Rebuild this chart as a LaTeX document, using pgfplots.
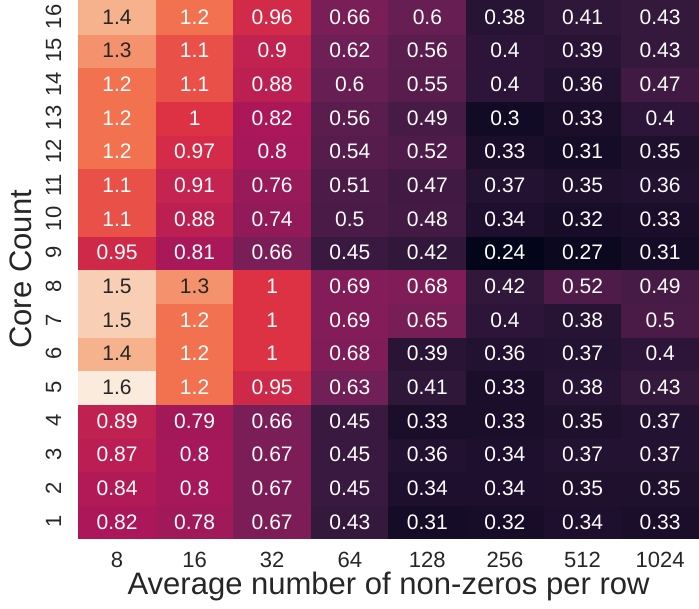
\documentclass[border=0pt]{standalone}
\usepackage{pgfplots}
\usepackage{pgfplotstable}
\pgfplotsset{compat=1.18}
\usepackage{fontspec}
\setmainfont{Liberation Sans}
\definecolor{dk}{HTML}{262626}
\pgfplotstableread{
x y v dark
0 1 0.82 0
1 1 0.78 0
2 1 0.67 0
3 1 0.43 0
4 1 0.31 0
5 1 0.32 0
6 1 0.34 0
7 1 0.33 0
0 2 0.84 0
1 2 0.8 0
2 2 0.67 0
3 2 0.45 0
4 2 0.34 0
5 2 0.34 0
6 2 0.35 0
7 2 0.35 0
0 3 0.87 0
1 3 0.8 0
2 3 0.67 0
3 3 0.45 0
4 3 0.36 0
5 3 0.34 0
6 3 0.37 0
7 3 0.37 0
0 4 0.89 0
1 4 0.79 0
2 4 0.66 0
3 4 0.45 0
4 4 0.33 0
5 4 0.33 0
6 4 0.35 0
7 4 0.37 0
0 5 1.6 1
1 5 1.2 0
2 5 0.95 0
3 5 0.63 0
4 5 0.41 0
5 5 0.33 0
6 5 0.38 0
7 5 0.43 0
0 6 1.4 1
1 6 1.2 0
2 6 1 0
3 6 0.68 0
4 6 0.39 0
5 6 0.36 0
6 6 0.37 0
7 6 0.4 0
0 7 1.5 1
1 7 1.2 0
2 7 1 0
3 7 0.69 0
4 7 0.65 0
5 7 0.4 0
6 7 0.38 0
7 7 0.5 0
0 8 1.5 1
1 8 1.3 1
2 8 1 0
3 8 0.69 0
4 8 0.68 0
5 8 0.42 0
6 8 0.52 0
7 8 0.49 0
0 9 0.95 0
1 9 0.81 0
2 9 0.66 0
3 9 0.45 0
4 9 0.42 0
5 9 0.24 0
6 9 0.27 0
7 9 0.31 0
0 10 1.1 0
1 10 0.88 0
2 10 0.74 0
3 10 0.5 0
4 10 0.48 0
5 10 0.34 0
6 10 0.32 0
7 10 0.33 0
0 11 1.1 0
1 11 0.91 0
2 11 0.76 0
3 11 0.51 0
4 11 0.47 0
5 11 0.37 0
6 11 0.35 0
7 11 0.36 0
0 12 1.2 0
1 12 0.97 0
2 12 0.8 0
3 12 0.54 0
4 12 0.52 0
5 12 0.33 0
6 12 0.31 0
7 12 0.35 0
0 13 1.2 0
1 13 1 0
2 13 0.82 0
3 13 0.56 0
4 13 0.49 0
5 13 0.3 0
6 13 0.33 0
7 13 0.4 0
0 14 1.2 0
1 14 1.1 0
2 14 0.88 0
3 14 0.6 0
4 14 0.55 0
5 14 0.4 0
6 14 0.36 0
7 14 0.47 0
0 15 1.3 1
1 15 1.1 0
2 15 0.9 0
3 15 0.62 0
4 15 0.56 0
5 15 0.4 0
6 15 0.39 0
7 15 0.43 0
0 16 1.4 1
1 16 1.2 0
2 16 0.96 0
3 16 0.66 0
4 16 0.6 0
5 16 0.38 0
6 16 0.41 0
7 16 0.43 0
}\datatable
\begin{document}
\begin{tikzpicture}
\begin{axis}[
  scale only axis, width=620pt, height=538pt,
  xmin=-0.5, xmax=7.5, ymin=0.5, ymax=16.5,
  axis line style={draw=none}, major tick length=0pt,
  xtick={0,...,7}, xticklabels={8,16,32,64,128,256,512,1024},
  ytick={1,...,16},
  /pgf/number format/assume math mode=true,
  tick label style={font=\fontsize{22}{26}\selectfont, text=dk},
  xticklabel style={inner sep=0pt, anchor=base, yshift=-29pt},
  yticklabel style={rotate=90, inner sep=0pt, anchor=base, yshift=17pt},
  xlabel={Average number of non-zeros per row},
  ylabel={Core Count},
  every axis x label/.style={at={(axis description cs:0.5,0)}, anchor=base, yshift=-56pt, inner sep=0pt, text depth=14pt, font=\fontsize{31}{37}\selectfont, text=dk},
  every axis y label/.style={at={(axis description cs:0,0.5)}, rotate=90, anchor=south, inner sep=10pt, yshift=36pt, font=\fontsize{31}{37}\selectfont, text=dk},
  colormap={rocket}{rgb255=(3,5,26) rgb255=(53,25,62) rgb255=(112,31,87) rgb255=(173,23,89) rgb255=(225,51,66) rgb255=(243,118,81) rgb255=(246,180,143) rgb255=(250,235,221)},
  point meta min=0.24, point meta max=1.6,
  nodes near coords style={anchor=center, inner sep=0pt, font=\fontsize{21}{25}\selectfont},
]
\addplot[matrix plot*, mesh/cols=8, point meta=explicit] table[x=x, y=y, meta=v] {\datatable};
\addplot[only marks, mark size=0pt, mark options={draw=none, fill=none},
  point meta=explicit symbolic, nodes near coords,
  restrict expr to domain={\thisrow{dark}}{0:0},
  every node near coord/.append style={text=white}
] table[x=x, y=y, meta=v] {\datatable};
\addplot[only marks, mark size=0pt, mark options={draw=none, fill=none},
  point meta=explicit symbolic, nodes near coords,
  restrict expr to domain={\thisrow{dark}}{1:1},
  every node near coord/.append style={text=dk}
] table[x=x, y=y, meta=v] {\datatable};
\end{axis}
\end{tikzpicture}
\end{document}
